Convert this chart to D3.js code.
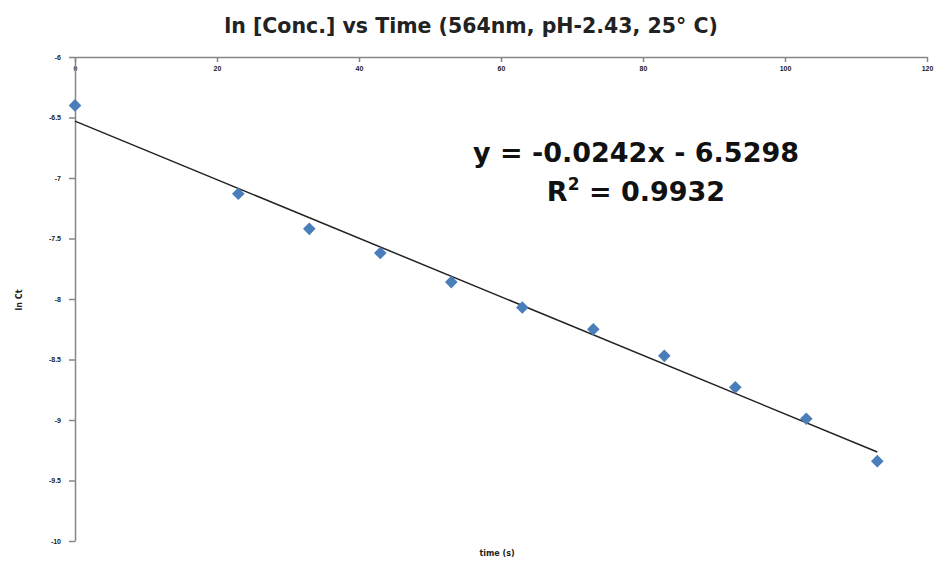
<!DOCTYPE html>
<html>
<head>
    <meta http-equiv="Content-Type" content="text/html;charset=utf-8">
    <script src="https://d3js.org/d3.v7.min.js"></script>
    <style>
        html, body {
            margin: 0;
            padding: 0;
            background: #fff;
            font-family: "DejaVu Sans", "Open Sans", sans-serif;
        }

        .axis path, .axis line {
            stroke: #868686;
            stroke-width: 1.5px;
        }

        .axis text {
            font-size: 7px;
            font-weight: bold;
            fill: #222;
        }
    </style>
</head>
<body>
<div id="chart"></div>
<script>
    // measured points (time in s, ln Ct)
    var times = [0, 23, 33, 43, 53, 63, 73, 83, 93, 103, 113];
    var lnCt = [-6.40, -7.13, -7.42, -7.62, -7.86, -8.07, -8.25, -8.47, -8.73, -8.99, -9.34];

    // linear trendline from the spreadsheet
    var slope = -0.0242,
        intercept = -6.5298,
        rSquared = "0.9932";

    var xTicks = [0, 20, 40, 60, 80, 100, 120];
    var yTicks = [-6, -6.5, -7, -7.5, -8, -8.5, -9, -9.5, -10];

    var width = 948,
        height = 561,
        margin = {top: 57, right: 21, bottom: 20, left: 75};

    var svg = d3.select("#chart").append("svg")
        .attr("width", width)
        .attr("height", height);

    var x = d3.scaleLinear()
        .domain([0, 120])
        .range([margin.left, width - margin.right]);

    var y = d3.scaleLinear()
        .domain([-6, -10])
        .range([margin.top, height - margin.bottom]);

    // title
    svg.append("text")
        .attr("x", 471)
        .attr("y", 33)
        .attr("text-anchor", "middle")
        .style("font-size", "20.5px")
        .style("font-weight", "bold")
        .style("fill", "#222")
        .text("ln [Conc.]  vs Time (564nm, pH-2.43, 25° C)");

    // x axis sits on top (y = -6), labels underneath
    var xAxis = svg.append("g")
        .attr("class", "axis")
        .attr("transform", "translate(0," + y(-6) + ")")
        .call(d3.axisBottom(x).tickValues(xTicks).tickSize(5).tickSizeOuter(0).tickPadding(4));

    var yAxis = svg.append("g")
        .attr("class", "axis")
        .attr("transform", "translate(" + x(0) + ",0)")
        .call(d3.axisLeft(y).tickValues(yTicks).tickSize(6).tickSizeOuter(0).tickPadding(8)
            .tickFormat(function (d) { return d; }));

    // axis titles
    svg.append("text")
        .attr("x", 497)
        .attr("y", 556)
        .attr("text-anchor", "middle")
        .style("font-size", "8px")
        .style("font-weight", "bold")
        .style("fill", "#222")
        .text("time (s)");

    svg.append("text")
        .attr("transform", "translate(22,300) rotate(-90)")
        .attr("text-anchor", "middle")
        .style("font-size", "8px")
        .style("font-weight", "bold")
        .style("fill", "#222")
        .text("ln Ct");

    // trendline
    var xMin = d3.min(times), xMax = d3.max(times);
    svg.append("line")
        .attr("x1", x(xMin))
        .attr("y1", y(slope * xMin + intercept))
        .attr("x2", x(xMax))
        .attr("y2", y(slope * xMax + intercept))
        .attr("stroke", "#222")
        .attr("stroke-width", 1.5);

    // markers
    var points = times.map(function (t, i) { return {t: t, v: lnCt[i]}; });
    svg.append("g")
        .selectAll("path")
        .data(points)
        .enter().append("path")
        .attr("d", d3.symbol().type(d3.symbolSquare).size(80))
        .attr("transform", function (d) {
            return "translate(" + x(d.t) + "," + y(d.v) + ") rotate(45)";
        })
        .attr("fill", "#4a7ebb");

    // equation label
    var eq = svg.append("text")
        .attr("text-anchor", "middle")
        .style("font-weight", "bold")
        .style("font-size", "27px")
        .style("fill", "#111");
    eq.append("tspan")
        .attr("x", 636)
        .attr("y", 162)
        .text("y = " + slope.toFixed(4) + "x - " + Math.abs(intercept).toFixed(4));
    var r2 = eq.append("tspan")
        .attr("x", 636)
        .attr("y", 201)
        .text("R");
    r2.append("tspan").attr("dy", -11).style("font-size", "17px").text("2");
    r2.append("tspan").attr("dy", 11).text(" = " + rSquared);
</script>
</body>
</html>
